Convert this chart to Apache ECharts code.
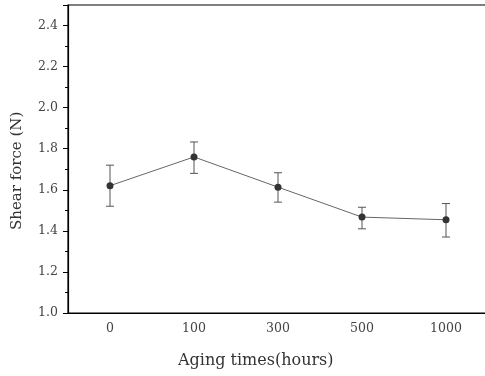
<!DOCTYPE html>
<html><head><meta charset="utf-8">
<script src="https://cdn.jsdelivr.net/npm/echarts@6/dist/echarts.min.js"></script>
<style>html,body{margin:0;padding:0;background:#fff}#c{width:485px;height:376px}</style>
</head><body><div id="c"></div>
<script>
const categories = ['0','100','300','500','1000'];
const meanValues = [1.62, 1.76, 1.613, 1.467, 1.454];
const upperValues = [1.72, 1.833, 1.683, 1.515, 1.533];
const lowerValues = [1.52, 1.68, 1.54, 1.41, 1.37];
const xTitle = 'Aging times(hours)';
const yTitle = 'Shear force (N)';

const font = '"DejaVu Serif", "Liberation Serif", serif';
const chart = echarts.init(document.getElementById('c'));
const errData = categories.map((c, i) => [i, lowerValues[i], upperValues[i]]);

chart.setOption({
  animation: false,
  grid: {left: 68, width: 420, top: 5, height: 308, show: true, borderColor: '#000', borderWidth: 1.2,
         outerBoundsMode: 'none', containLabel: false},
  graphic: [
    {type: 'text', left: 178, top: 353, style: {text: xTitle, font: '16px ' + font, fill: '#333'}},
    {type: 'text', x: 10, y: 230, rotation: Math.PI / 2, style: {text: yTitle, font: '15px ' + font, fill: '#333'}}
  ],
  xAxis: [{
    type: 'category', data: categories, boundaryGap: true,
    axisLine: {lineStyle: {color: '#000', width: 1.2}},
    axisTick: {alignWithLabel: true, length: 5, lineStyle: {color: '#000'}},
    axisLabel: {fontFamily: font, fontSize: 12.5, color: '#444', margin: 9},
    splitLine: {show: false}
  }, {
    type: 'category', data: categories, boundaryGap: true, position: 'bottom',
    axisLine: {show: false},
    axisTick: {length: 3, lineStyle: {color: '#000'}},
    axisLabel: {show: false}, splitLine: {show: false}
  }],
  yAxis: {
    type: 'value', min: 1.0, max: 2.5, interval: 0.2,
    axisLine: {show: true, lineStyle: {color: '#000', width: 1.2}},
    axisTick: {show: true, length: 5, lineStyle: {color: '#000'}},
    minorTick: {show: true, splitNumber: 2, length: 3, lineStyle: {color: '#000'}},
    axisLabel: {fontFamily: font, fontSize: 12.5, color: '#444', margin: 10, showMaxLabel: false,
      formatter: v => (Math.abs(v - 2.5) < 1e-6 ? '' : v.toFixed(1))},
    splitLine: {show: false}
  },
  series: [{
    type: 'custom', xAxisIndex: 0, data: errData, z: 1,
    renderItem: function (params, api) {
      const x = api.value(0);
      const lo = api.coord([x, api.value(1)]);
      const hi = api.coord([x, api.value(2)]);
      const w = 4;
      const style = {stroke: '#555', lineWidth: 1};
      return {type: 'group', children: [
        {type: 'line', shape: {x1: lo[0], y1: lo[1], x2: hi[0], y2: hi[1]}, style},
        {type: 'line', shape: {x1: lo[0]-w, y1: lo[1], x2: lo[0]+w, y2: lo[1]}, style},
        {type: 'line', shape: {x1: hi[0]-w, y1: hi[1], x2: hi[0]+w, y2: hi[1]}, style}
      ]};
    }
  }, {
    type: 'line', xAxisIndex: 0, data: meanValues, z: 3,
    symbol: 'circle', symbolSize: 7,
    lineStyle: {color: '#666', width: 1},
    itemStyle: {color: '#333'}
  }]
});
</script></body></html>
